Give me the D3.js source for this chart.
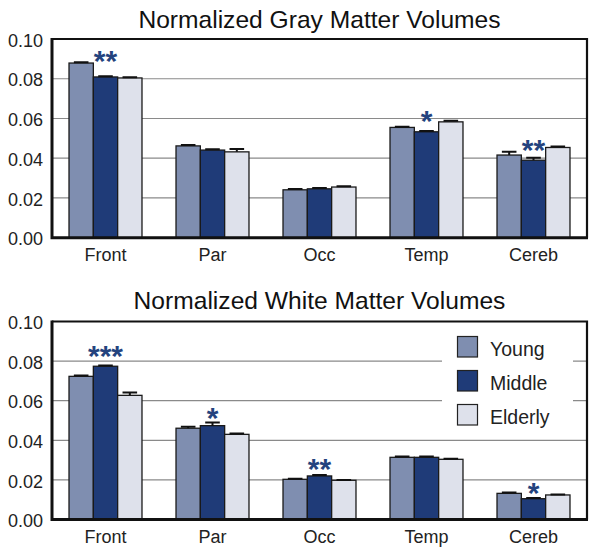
<!DOCTYPE html>
<html><head><meta charset="utf-8">
<script src="https://cdn.jsdelivr.net/npm/d3@7"></script>
<style>body{margin:0;background:#fff}svg{display:block}text{font-family:"Liberation Sans",Arial,Helvetica,sans-serif}</style>
</head><body>
<svg id="chart" width="601" height="553"></svg>
<script>
const regions = ["Front", "Par", "Occ", "Temp", "Cereb"];
const groups = ["Young", "Middle", "Elderly"];
const yTicks = [0, 0.02, 0.04, 0.06, 0.08, 0.10];

const grayTitle = "Normalized Gray Matter Volumes";
const grayYoung   = [0.0879, 0.0462, 0.0241, 0.0555, 0.0416];
const grayMiddle  = [0.0809, 0.0441, 0.0246, 0.0533, 0.0390];
const grayElderly = [0.0804, 0.0432, 0.0255, 0.0583, 0.0454];
const grayErrYoung   = [0.0004, 0.0004, 0.0004, 0.0004, 0.0016];
const grayErrMiddle  = [0.0004, 0.0004, 0.0004, 0.0004, 0.0012];
const grayErrElderly = [0.0004, 0.0015, 0.0004, 0.0006, 0.0005];
const graySig = [{region: "Front", label: "**", y: 0.0913}, {region: "Temp", label: "*", y: 0.0613}, {region: "Cereb", label: "**", y: 0.0466}];

const whiteTitle = "Normalized White Matter Volumes";
const whiteYoung   = [0.0723, 0.0461, 0.0203, 0.0314, 0.0132];
const whiteMiddle  = [0.0774, 0.0474, 0.0220, 0.0314, 0.0105];
const whiteElderly = [0.0627, 0.0430, 0.0198, 0.0304, 0.0124];
const whiteErrYoung   = [0.0004, 0.0008, 0.0003, 0.0004, 0.0004];
const whiteErrMiddle  = [0.0004, 0.0016, 0.0005, 0.0004, 0.0003];
const whiteErrElderly = [0.0015, 0.0004, 0.0002, 0.0003, 0.0002];
const whiteSig = [{region: "Front", label: "***", y: 0.0851}, {region: "Par", label: "*", y: 0.0538}, {region: "Occ", label: "**", y: 0.0280}, {region: "Cereb", label: "*", y: 0.0159}];

const colors = {Young: "#7f8eb0", Middle: "#1f3b78", Elderly: "#dee1eb"};
const starColor = "#24437e";

const svg = d3.select("#chart");
const left = 52, right = 587;

function panel(title, vals, errs, sig, top, bottom, titleY, withLegend) {
  const g = svg.append("g");
  const x0 = d3.scaleBand().domain(regions).range([left, right]).paddingInner(0.318).paddingOuter(0.159);
  const x1 = d3.scaleBand().domain(groups).range([0, x0.bandwidth()]);
  const y = d3.scaleLinear().domain([0, 0.10]).range([bottom, top]);

  // gridlines
  g.append("g").selectAll("line").data(yTicks.filter(t => t > 0 && t < 0.1)).join("line")
    .attr("x1", left).attr("x2", right).attr("y1", d => y(d)).attr("y2", d => y(d))
    .attr("stroke", "#8a8a8a").attr("stroke-width", 1.2);

  // legend background (covers gridlines)
  if (withLegend) {
    const lg = g.append("g");
    lg.append("rect").attr("x", 442).attr("y", 328).attr("width", 131).attr("height", 104).attr("fill", "#fff");
    groups.forEach((k, i) => {
      lg.append("rect").attr("x", 457.5).attr("y", 336.5 + i * 34).attr("width", 20).attr("height", 20.5)
        .attr("fill", colors[k]).attr("stroke", "#222").attr("stroke-width", 1.2);
      lg.append("text").attr("x", 490).attr("y", 356 + i * 34).attr("font-size", 19.5).attr("fill", "#222").text(k);
    });
  }

  // y axis labels
  const yAxis = d3.axisLeft(y).tickValues(yTicks).tickFormat(d3.format(".2f")).tickSize(0).tickPadding(9);
  const ya = g.append("g").attr("transform", `translate(${left},0)`).call(yAxis);
  ya.select(".domain").remove();
  ya.selectAll("text").attr("font-size", 18).attr("fill", "#222").attr("font-family", '"Liberation Sans",Arial,sans-serif').attr("dy", "0.4em");

  // bars
  const data = regions.map((r, i) => ({region: r, items: groups.map((k, j) => ({key: k, v: vals[j][i], e: errs[j][i]}))}));
  const gg = g.append("g").selectAll("g").data(data).join("g").attr("transform", d => `translate(${x0(d.region)},0)`);
  gg.selectAll("rect").data(d => d.items).join("rect")
    .attr("x", d => x1(d.key)).attr("width", x1.bandwidth())
    .attr("y", d => y(d.v)).attr("height", d => y(0) - y(d.v))
    .attr("fill", d => colors[d.key]).attr("stroke", "#1a1a1a").attr("stroke-width", 1.3);
  // error bars
  const cw = x1.bandwidth() * 0.6;
  gg.selectAll("path.err").data(d => d.items).join("path").attr("class", "err")
    .attr("d", d => {
      const cx = x1(d.key) + x1.bandwidth() / 2;
      return `M${cx},${y(d.v)}V${y(d.v + d.e)}M${cx - cw / 2},${y(d.v + d.e)}H${cx + cw / 2}`;
    })
    .attr("stroke", "#111").attr("stroke-width", 2).attr("fill", "none");

  // significance stars
  g.append("g").selectAll("text").data(sig).join("text")
    .attr("x", d => x0(d.region) + x1("Middle") + x1.bandwidth() / 2)
    .attr("y", d => y(d.y) + 15)
    .attr("text-anchor", "middle").attr("font-size", 30).attr("font-weight", "bold")
    .attr("fill", starColor).text(d => d.label);

  // frame
  g.append("path").attr("d", `M${left},${top}H${right}V${bottom}`).attr("fill", "none").attr("stroke", "#111").attr("stroke-width", 2.2);
  g.append("path").attr("d", `M${left},${top - 1}V${bottom}H${right + 1}`).attr("fill", "none").attr("stroke", "#111").attr("stroke-width", 3);

  // x labels
  const xAxis = d3.axisBottom(x0).tickSize(0).tickPadding(0);
  const xa = g.append("g").attr("transform", `translate(0,${bottom})`).call(xAxis);
  xa.select(".domain").remove();
  xa.selectAll("text").attr("font-size", 18).attr("fill", "#222").attr("font-family", '"Liberation Sans",Arial,sans-serif').attr("dy", "1.3em").attr("y", 0);

  // title
  g.append("text").attr("x", (left + right) / 2).attr("y", titleY).attr("text-anchor", "middle")
    .attr("font-size", 24.6).attr("fill", "#111").text(title);
}

panel(grayTitle, [grayYoung, grayMiddle, grayElderly], [grayErrYoung, grayErrMiddle, grayErrElderly], graySig, 39, 237.7, 28, false);
panel(whiteTitle, [whiteYoung, whiteMiddle, whiteElderly], [whiteErrYoung, whiteErrMiddle, whiteErrElderly], whiteSig, 321.5, 519.5, 309, true);
</script>
</body></html>
